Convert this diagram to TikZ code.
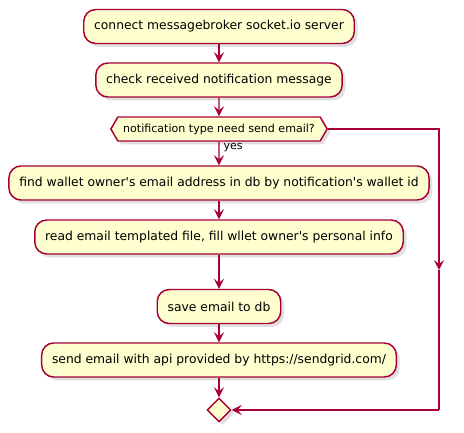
\documentclass[tikz,border=0pt]{standalone}
\usepackage{fontspec}
\setmainfont{DejaVu Sans}
\usetikzlibrary{shapes.symbols,shapes.geometric,arrows.meta,shadows}
\definecolor{umlline}{RGB}{168,0,54}
\definecolor{umlfill}{RGB}{254,254,206}
\tikzset{every picture/.style={line width=0.75pt}}
\tikzset{
  umlshadow/.style={drop shadow={shadow xshift=2.5pt,shadow yshift=-2.5pt,opacity=0.2,fill=black!60}},
  actbox/.style={draw=umlline,fill=umlfill,line width=1.1pt,rounded corners=9pt,
    minimum height=25.5pt,inner xsep=7.8pt,font=\fontsize{9.25}{11}\selectfont,umlshadow},
  testbox/.style={draw=umlline,fill=umlfill,line width=1.1pt,signal,signal to=west and east,
    signal pointer angle=120,minimum height=18pt,inner xsep=4pt,inner ysep=0pt,
    font=\fontsize{8.3}{10}\selectfont,umlshadow},
  mergebox/.style={draw=umlline,fill=umlfill,line width=1.1pt,diamond,minimum size=18pt,
    inner sep=0pt,umlshadow},
  flow/.style={draw=umlline,line width=0.9pt,-{Stealth[length=7.5pt,width=7.5pt,inset=3pt]}},
  flowline/.style={draw=umlline,line width=0.9pt}
}

\begin{document}
\begin{tikzpicture}[x=0.75pt,y=0.75pt,yscale=-1,xscale=1]
\useasboundingbox (0,0) rectangle (464,432);

% Activities
\node [actbox] (connect) at (219,26.5) {connect messagebroker socket.io server};
\node [actbox] (check) at (219,80) {check received notification message};
\node [testbox] (needmail) at (219,129) {notification type need send email?};
\node [actbox] (findowner) at (219,183) {find wallet owner\textquotesingle s email address in db by notification\textquotesingle s wallet id};
\node [actbox] (readtpl) at (219,237) {read email templated file, fill wllet owner\textquotesingle s personal info};
\node [actbox] (savemail) at (219,306.5) {save email to db};
\node [actbox] (sendmail) at (219,360) {send email with api provided by https://sendgrid.com/};
\node [mergebox] (endif) at (219,410) {};

% Text Node
\node [anchor=west,inner sep=0.75pt,font=\fontsize{8.3}{10}\selectfont] (yes) at (222,148) {yes};

% Corners of the "no" branch
\coordinate (nocorner) at (439,129);
\coordinate (nomid) at (439,270);
\coordinate (nobottom) at (439,410);

% Connectors
\draw [flow] (connect) -- (check);
\draw [flow] (check) -- (needmail);
\draw [flow] (needmail) -- (findowner);
\draw [flow] (findowner) -- (readtpl);
\draw [flow] (readtpl) -- (savemail);
\draw [flow] (savemail) -- (sendmail);
\draw [flow] (sendmail) -- (endif);
\draw [flow] (needmail.east) -- (nocorner) -- (nomid);
\draw [flowline] (nomid) -- (nobottom);
\draw [flow] (nobottom) -- (endif.east);

\end{tikzpicture}
\end{document}
